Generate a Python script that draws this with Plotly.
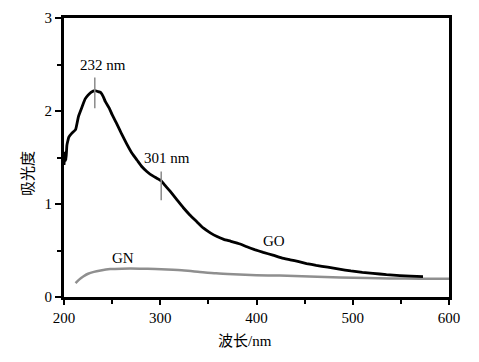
import plotly.graph_objects as go

# GO absorbance spectrum (wavelength nm, absorbance)
go_wavelength = [200, 201, 202, 203, 204, 205, 208, 212, 215, 219, 222, 225, 228, 232, 235, 238, 241, 243, 247, 250,
                 255, 260, 265, 271, 276, 281, 286, 291, 296, 301, 305, 310, 317, 324, 331, 338, 345, 352, 359, 366,
                 373, 383, 390, 398, 407, 417, 426, 435, 444, 452, 462, 474, 486, 498, 510, 521, 535, 549, 560, 573]
go_absorbance = [1.42, 1.55, 1.47, 1.63, 1.68, 1.72, 1.76, 1.80, 1.94, 2.05, 2.13, 2.17, 2.20, 2.22, 2.21, 2.20, 2.15, 2.10, 2.03, 1.96,
                 1.86, 1.75, 1.65, 1.54, 1.47, 1.40, 1.35, 1.31, 1.28, 1.25, 1.20, 1.14, 1.05, 0.96, 0.88, 0.81, 0.74, 0.69, 0.65, 0.62,
                 0.60, 0.57, 0.54, 0.51, 0.48, 0.45, 0.42, 0.40, 0.38, 0.36, 0.34, 0.32, 0.30, 0.28, 0.265, 0.255, 0.24, 0.23, 0.225, 0.22]

# GN absorbance spectrum
gn_wavelength = [212, 216, 220, 225, 231, 238, 248, 260, 279, 295, 307, 325, 341, 358, 376, 400, 424, 455, 487, 515, 538, 570, 600]
gn_absorbance = [0.15, 0.19, 0.22, 0.25, 0.27, 0.285, 0.30, 0.305, 0.305, 0.30, 0.295, 0.285, 0.27, 0.255, 0.245, 0.235, 0.23, 0.22, 0.21, 0.205, 0.20, 0.197, 0.195]

# peak markers
peak_wavelengths = [232, 301]
peak_labels = ["232 nm", "301 nm"]
peak_mark_low = [2.03, 1.04]
peak_mark_high = [2.36, 1.35]
peak_label_x = [241, 307]
peak_label_y = [2.49, 1.49]

# curve labels
curve_names = ["GO", "GN"]
curve_label_x = [418, 261]
curve_label_y = [0.60, 0.42]

x_ticks = [200, 300, 400, 500, 600]
y_ticks = [0, 1, 2, 3]

FONT = "Liberation Serif, Times New Roman, Noto Sans CJK SC, serif"
FS = 15
OFF = 8  # page body margin

fig = go.Figure()
fig.add_trace(go.Scatter(x=gn_wavelength, y=gn_absorbance, mode="lines",
                         line=dict(color="#8f8f8f", width=2.5, shape="spline", smoothing=0.6),
                         showlegend=False, hoverinfo="skip"))
fig.add_trace(go.Scatter(x=go_wavelength, y=go_absorbance, mode="lines",
                         line=dict(color="black", width=2.8, shape="spline", smoothing=0.4),
                         showlegend=False, hoverinfo="skip"))

for wl, lo, hi in zip(peak_wavelengths, peak_mark_low, peak_mark_high):
    fig.add_shape(type="line", xref="x", yref="y", x0=wl, x1=wl, y0=lo, y1=hi,
                  line=dict(color="#8a8a8a", width=1.5))

for lbl, lx, ly in zip(peak_labels, peak_label_x, peak_label_y):
    fig.add_annotation(x=lx, y=ly, xref="x", yref="y", text=lbl, showarrow=False,
                       font=dict(family=FONT, size=FS, color="#000"))

for lbl, lx, ly in zip(curve_names, curve_label_x, curve_label_y):
    fig.add_annotation(x=lx, y=ly, xref="x", yref="y", text=lbl, showarrow=False,
                       font=dict(family=FONT, size=FS, color="#000"))

W, H = 479, 362
ml, mr, mt, mb = 56, 38, 10, 73
pw, ph = W - ml - mr, H - mt - mb

def px2paper(x, y):
    return (x - OFF - ml) / pw, 1 - (y - OFF - mt) / ph

tx, ty = px2paper(18, 174)
fig.add_annotation(x=tx, y=ty, xref="paper", yref="paper", text="吸光度", showarrow=False,
                   textangle=-90, font=dict(family=FONT, size=FS, color="#000"))
tx, ty = px2paper(245, 351)
fig.add_annotation(x=tx, y=ty, xref="paper", yref="paper", text="波长/nm", showarrow=False,
                   font=dict(family=FONT, size=FS, color="#000"))

fig.update_layout(
    width=W, height=H,
    margin=dict(l=ml, r=mr, t=mt, b=mb, autoexpand=False),
    paper_bgcolor="white", plot_bgcolor="white",
    font=dict(family=FONT, size=FS, color="#000"),
    xaxis=dict(range=[200, 600], tickvals=x_ticks, showgrid=False, zeroline=False, automargin=False,
               showline=True, linecolor="black", linewidth=3, mirror=True,
               ticks="outside", ticklen=5, tickwidth=2, tickcolor="black",
               minor=dict(dtick=50, ticks="outside", ticklen=4, tickwidth=2, tickcolor="black"),
               tickfont=dict(family=FONT, size=FS, color="#000")),
    yaxis=dict(range=[0, 3], tickvals=y_ticks, showgrid=False, zeroline=False, automargin=False,
               showline=True, linecolor="black", linewidth=3, mirror=True,
               ticks="outside", ticklen=6, tickwidth=2, tickcolor="black", ticklabeloverflow="allow",
               minor=dict(dtick=0.5, ticks="outside", ticklen=4, tickwidth=2, tickcolor="black"),
               tickfont=dict(family=FONT, size=FS, color="#000")),
)

fig.write_html("out.html")
